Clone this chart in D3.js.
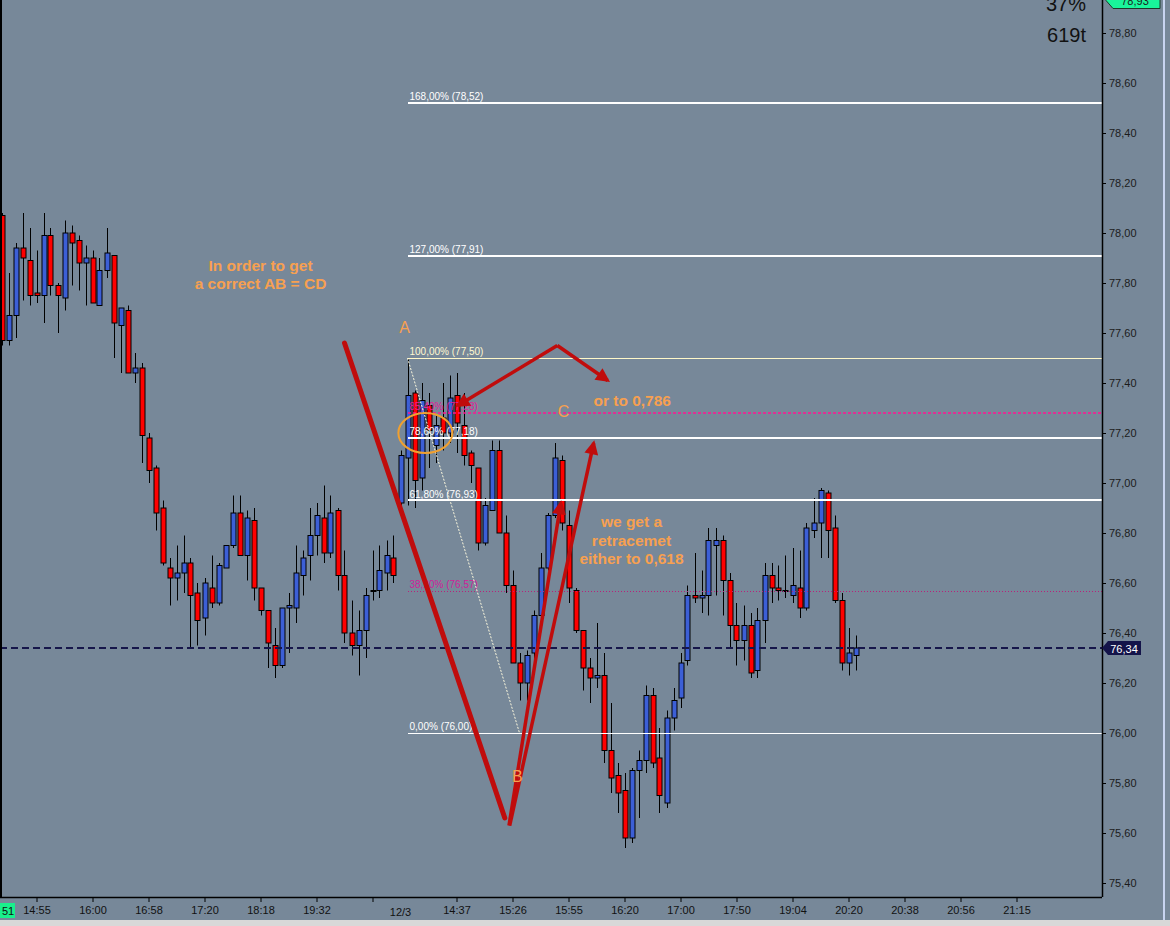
<!DOCTYPE html>
<html>
<head>
<meta charset="utf-8">
<script src="https://cdn.jsdelivr.net/npm/d3@7"></script>
<style>
  body { margin: 0; background: #778899; overflow: hidden; }
  svg { display: block; }
  text { font-family: "Liberation Sans", Arial, sans-serif; }
</style>
</head>
<body>
<div id="chart"></div>
<script>
// candles, one per bar (index = position on the time axis)
const opens = [78.07,77.57,77.67,77.94,77.89,77.76,77.75,77.99,77.79,77.74,78.00,77.97,77.88,77.90,77.71,77.85,77.91,77.63,77.69,77.44,
  77.46,77.18,77.06,76.90,76.66,76.62,76.64,76.68,76.56,76.46,76.58,76.52,76.66,76.75,76.88,76.71,76.85,76.58,76.49,76.35,
  76.27,76.50,76.50,76.63,76.71,76.79,76.86,76.72,76.89,76.63,76.40,76.35,76.41,76.57,76.57,76.64,76.70,76.92,77.10,77.36,
  77.02,77.31,77.15,77.26,77.20,77.35,77.23,77.12,77.06,76.76,76.89,77.13,76.80,76.59,76.28,76.20,76.32,76.47,76.66,76.87,
  77.09,76.83,76.57,76.41,76.26,76.22,76.23,75.93,75.83,75.77,75.58,75.85,75.89,76.15,75.90,75.72,76.06,76.14,76.29,76.55,
  76.54,76.55,76.75,76.77,76.61,76.43,76.37,76.43,76.25,76.45,76.63,76.58,76.57,76.55,76.58,76.50,76.81,76.84,76.96,76.82,
  76.53,76.28,76.31];
const highs = [78.08,77.84,77.96,78.08,78.02,77.93,78.08,78.02,77.80,78.05,78.03,77.99,77.95,77.93,77.90,78.02,77.91,77.70,77.71,77.52,
  77.48,77.20,77.07,76.93,76.70,76.75,76.79,76.70,76.60,76.62,76.71,76.68,76.75,76.95,76.95,76.89,76.90,76.58,76.49,76.42,
  76.50,76.56,76.75,76.73,76.90,76.92,76.99,76.95,76.90,76.73,76.53,76.49,76.58,76.73,76.75,76.77,76.79,77.13,77.50,77.37,
  77.40,77.36,77.27,77.40,77.43,77.44,77.36,77.13,77.06,76.94,77.17,77.17,76.87,76.65,76.32,76.33,76.49,76.72,76.88,77.16,
  77.11,76.89,76.58,76.41,76.30,76.44,76.32,76.12,75.88,75.84,75.86,75.93,76.19,76.18,76.02,76.09,76.18,76.32,76.59,76.72,
  76.65,76.82,76.82,76.79,76.64,76.52,76.51,76.48,76.50,76.68,76.68,76.67,76.71,76.74,76.73,76.84,76.94,76.98,76.97,76.87,
  76.56,76.42,76.39];
const lows = [77.55,77.55,77.58,77.73,77.71,77.72,77.64,77.75,77.60,77.69,77.79,77.77,77.71,77.72,77.71,77.82,77.50,77.44,77.44,77.40,
  77.08,77.00,76.81,76.67,76.51,76.53,76.56,76.34,76.35,76.39,76.50,76.51,76.66,76.74,76.71,76.61,76.53,76.47,76.26,76.22,
  76.26,76.32,76.44,76.55,76.61,76.71,76.68,76.70,76.57,76.36,76.31,76.23,76.30,76.53,76.54,76.57,76.60,76.86,76.91,76.90,
  76.97,77.06,77.08,77.13,77.16,77.12,77.07,77.00,76.73,76.75,76.89,76.80,76.56,76.28,76.13,76.13,76.28,76.46,76.65,76.86,
  76.81,76.52,76.40,76.17,76.12,76.18,75.88,75.76,75.68,75.54,75.56,75.66,75.84,75.86,75.68,75.70,76.01,76.10,76.27,76.52,
  76.48,76.47,76.55,76.47,76.34,76.27,76.29,76.22,76.22,76.36,76.52,76.53,76.54,76.52,76.46,76.49,76.78,76.70,76.70,76.52,
  76.25,76.23,76.25];
const closes = [77.57,77.67,77.94,77.90,77.75,77.75,77.99,77.79,77.75,78.00,77.96,77.88,77.90,77.72,77.85,77.92,77.64,77.70,77.44,77.46,
  77.19,77.05,76.88,76.68,76.62,76.64,76.68,76.55,76.45,76.60,76.52,76.67,76.75,76.88,76.71,76.86,76.58,76.49,76.36,76.27,
  76.50,76.51,76.64,76.70,76.79,76.87,76.72,76.88,76.63,76.40,76.35,76.41,76.55,76.57,76.65,76.71,76.63,77.11,77.35,77.01,
  77.33,77.21,77.23,77.20,77.34,77.24,77.11,77.07,76.76,76.91,77.13,76.80,76.59,76.28,76.20,76.31,76.47,76.66,76.87,77.10,
  76.84,76.58,76.41,76.26,76.22,76.23,75.93,75.82,75.76,75.58,75.85,75.89,76.15,75.88,75.75,76.06,76.13,76.28,76.55,76.54,
  76.55,76.77,76.77,76.61,76.43,76.37,76.43,76.24,76.45,76.63,76.58,76.57,76.57,76.59,76.50,76.82,76.84,76.97,76.81,76.53,
  76.28,76.32,76.34];

// time axis
const timeTickIdx = [5,13,21,29,37,45,53,65,73,81,89,97,105,113,121,129,137,145];
const timeTickLabels = ["14:55","16:00","16:58","17:20","18:18","19:32","","14:37","15:26","15:55","16:20","17:00","17:50","19:04","20:20","20:38","20:56","21:15"];
const dayIdx = 57;
const dayLabel = "12/3";

// price axis
const priceTicks = [75.4,75.6,75.8,76.0,76.2,76.4,76.6,76.8,77.0,77.2,77.4,77.6,77.8,78.0,78.2,78.4,78.6,78.8];
const lastPrice = 76.34;
const topPrice = 78.93;

// fibonacci levels drawn from A (77.50) to B (76.00)
const fibPct = [168.0, 127.0, 100.0, 85.4, 78.6, 61.8, 38.2, 0.0];
const fibPrice = [78.52, 77.91, 77.50, 77.28, 77.18, 76.93, 76.57, 76.00];
const fibStartIdx = 58;

const W = 1170, H = 926;
const plotRight = 1102, plotBottom = 897;

const x = d3.scaleLinear().domain([0, 157]).range([1.5, 1100.5]);
const y = d3.scaleLinear().domain([76, 78.8]).range([733, 33]);
const fmt = v => v.toFixed(2).replace('.', ',');

const svg = d3.select('#chart').append('svg')
    .attr('width', W)
    .attr('height', H);

svg.append('rect')
    .attr('width', W).attr('height', H)
    .attr('fill', '#778899');

const defs = svg.append('defs');
defs.append('clipPath').attr('id', 'plot-clip')
  .append('rect')
    .attr('x', 1.5).attr('y', 0)
    .attr('width', plotRight - 1.5).attr('height', plotBottom);
defs.append('marker')
    .attr('id', 'arrow')
    .attr('markerUnits', 'userSpaceOnUse')
    .attr('viewBox', '0 0 10 10')
    .attr('refX', 8).attr('refY', 5)
    .attr('markerWidth', 15).attr('markerHeight', 14)
    .attr('orient', 'auto')
  .append('path')
    .attr('d', 'M0,0 L10,5 L0,10 Z')
    .attr('fill', '#c00c0c');

const plot = svg.append('g').attr('clip-path', 'url(#plot-clip)');

const fibStyle = i => ({
  stroke: [ '#fff', '#fff', '#fff8c8', '#ff1493', '#fff', '#fff', '#b8207a', '#fff' ][i],
  width: [2, 2, 1, 1.4, 2, 2, 1, 1][i],
  dash: [null, null, null, '3,2', null, null, '1,2', null][i],
  label: [ '#fff', '#fff', '#fff8d0', '#e0209a', '#fff', '#fff', '#d0209a', '#fff' ][i]
});

const fibs = fibPct.map((p, i) => ({pct: p, price: fibPrice[i], i}));

// candles
const bars = opens.map((o, i) => ({i, o, h: highs[i], l: lows[i], c: closes[i]}));

const candle = plot.append('g').attr('class', 'candles')
  .selectAll('g')
  .data(bars)
  .join('g');

candle.append('line')
    .attr('x1', d => Math.round(x(d.i)) + 0.5)
    .attr('x2', d => Math.round(x(d.i)) + 0.5)
    .attr('y1', d => y(d.h))
    .attr('y2', d => y(d.l))
    .attr('stroke', '#000')
    .attr('stroke-width', 1);

candle.append('rect')
    .attr('x', d => Math.round(x(d.i)) - 2)
    .attr('y', d => y(Math.max(d.o, d.c)))
    .attr('width', 5)
    .attr('height', d => Math.max(1, y(Math.min(d.o, d.c)) - y(Math.max(d.o, d.c))))
    .attr('fill', d => d.c >= d.o ? '#3c5fd6' : '#ff0000')
    .attr('stroke', '#000')
    .attr('stroke-width', 1);

// last price dashed line
plot.append('line')
    .attr('x1', 0).attr('x2', plotRight)
    .attr('y1', y(lastPrice)).attr('y2', y(lastPrice))
    .attr('stroke', '#16164a')
    .attr('stroke-width', 2)
    .attr('stroke-dasharray', '7,4');

// fibonacci levels
const fibG = plot.append('g').attr('class', 'fib');
fibG.selectAll('line')
  .data(fibs)
  .join('line')
    .attr('x1', x(fibStartIdx) + 0.5)
    .attr('x2', plotRight)
    .attr('y1', d => Math.round(y(d.price)) + (fibStyle(d.i).width === 1 ? 0.5 : 0))
    .attr('y2', d => Math.round(y(d.price)) + (fibStyle(d.i).width === 1 ? 0.5 : 0))
    .attr('stroke', d => fibStyle(d.i).stroke)
    .attr('stroke-width', d => fibStyle(d.i).width)
    .attr('stroke-dasharray', d => fibStyle(d.i).dash);

fibG.selectAll('text')
  .data(fibs)
  .join('text')
    .attr('x', x(fibStartIdx) + 2)
    .attr('y', d => y(d.price) - 3)
    .attr('font-size', 10)
    .attr('fill', d => fibStyle(d.i).label)
    .text(d => `${fmt(d.pct)}% (${fmt(d.price)})`);

// A -> B thin retrace line
plot.append('line')
    .attr('x1', x(fibStartIdx)).attr('y1', y(77.50))
    .attr('x2', x(74)).attr('y2', y(76.00))
    .attr('stroke', '#fffbe0')
    .attr('stroke-width', 1)
    .attr('stroke-dasharray', '2,1.5');

// hand drawn annotations
const red = '#c00c0c';
const ann = plot.append('g').attr('class', 'annotations');
ann.append('line')
    .attr('x1', x(49)).attr('y1', y(77.56))
    .attr('x2', x(71.9)).attr('y2', y(75.66))
    .attr('stroke', red).attr('stroke-width', 5).attr('stroke-linecap', 'round');
[[72.5, 75.63, 79.9, 76.92], [72.6, 75.63, 84.6, 77.16],
 [79.4, 77.55, 65.2, 77.31], [79.4, 77.55, 86.6, 77.41]].forEach(s => {
  ann.append('line')
      .attr('x1', x(s[0])).attr('y1', y(s[1]))
      .attr('x2', x(s[2])).attr('y2', y(s[3]))
      .attr('stroke', red).attr('stroke-width', 3.5)
      .attr('marker-end', 'url(#arrow)');
});

ann.append('ellipse')
    .attr('cx', x(60.55)).attr('cy', y(77.20))
    .attr('rx', 27).attr('ry', 20)
    .attr('fill', 'none')
    .attr('stroke', '#f0a030')
    .attr('stroke-width', 2);

const orange = '#f7a050';
const notes = [
  {t: 'In order to get', i: 37, p: 77.848, bold: true},
  {t: 'a correct AB = CD', i: 37, p: 77.776, bold: true},
  {t: 'A', i: 57.6, p: 77.60, bold: false},
  {t: 'C', i: 80.3, p: 77.265, bold: false},
  {t: 'or to 0,786', i: 90.1, p: 77.308, bold: true},
  {t: 'we get a', i: 90, p: 76.824, bold: true},
  {t: 'retracemet', i: 90, p: 76.748, bold: true},
  {t: 'either to 0,618', i: 90, p: 76.676, bold: true},
  {t: 'B', i: 73.7, p: 75.805, bold: false}
];
ann.selectAll('text')
  .data(notes)
  .join('text')
    .attr('x', d => x(d.i))
    .attr('y', d => y(d.p))
    .attr('text-anchor', 'middle')
    .attr('font-size', d => d.bold ? 15.5 : 16)
    .attr('font-weight', d => d.bold ? 'bold' : 'normal')
    .attr('fill', orange)
    .text(d => d.t);

// frame
svg.append('line')
    .attr('x1', 1).attr('x2', 1).attr('y1', 0).attr('y2', plotBottom)
    .attr('stroke', '#000').attr('stroke-width', 2);

// price axis
svg.append('g')
    .attr('transform', `translate(${plotRight},0)`)
    .call(d3.axisRight(y).tickValues(priceTicks).tickSize(4).tickPadding(3).tickFormat(fmt))
    .call(g => g.select('.domain').attr('d', `M0.5,0V${plotBottom}`).attr('stroke', '#000').attr('stroke-width', 1.5))
    .call(g => g.selectAll('.tick line').attr('stroke', '#000'))
    .call(g => g.selectAll('.tick text')
        .attr('font-family', '"Liberation Sans", Arial, sans-serif')
        .attr('font-size', 11)
        .attr('fill', '#1c1c1c'));

// time axis
svg.append('g')
    .attr('transform', `translate(0,${plotBottom})`)
    .call(d3.axisBottom(x).tickValues(timeTickIdx).tickSize(5).tickPadding(4)
        .tickFormat((d, i) => timeTickLabels[i]))
    .call(g => g.select('.domain').attr('d', `M0,0.5H${plotRight}`).attr('stroke', '#000').attr('stroke-width', 1.5))
    .call(g => g.selectAll('.tick line').attr('stroke', '#000'))
    .call(g => g.selectAll('.tick text')
        .attr('font-family', '"Liberation Sans Narrow", "Liberation Sans", Arial, sans-serif')
        .attr('font-size', 11)
        .attr('fill', '#111'));

svg.append('text')
    .attr('x', x(dayIdx)).attr('y', plotBottom + 19)
    .attr('text-anchor', 'middle')
    .attr('font-family', '"Liberation Sans Narrow", "Liberation Sans", Arial, sans-serif')
    .attr('font-size', 11)
    .attr('fill', '#111')
    .text(dayLabel);

// bar counter box bottom left
svg.append('rect').attr('x', 0).attr('y', 903).attr('width', 15).attr('height', 15).attr('fill', '#19f08c');
svg.append('text').attr('x', 2).attr('y', 915).attr('font-size', 11).attr('fill', '#111').text('51');

// last price flag
const lp = y(lastPrice);
svg.append('path')
    .attr('d', `M${plotRight},${lp} L${plotRight + 6},${lp - 7} H${plotRight + 39} V${lp + 7} H${plotRight + 6} Z`)
    .attr('fill', '#14144a');
svg.append('text')
    .attr('x', plotRight + 22).attr('y', lp + 4.5)
    .attr('text-anchor', 'middle')
    .attr('font-size', 11)
    .attr('fill', '#fff')
    .text(fmt(lastPrice));

// top price flag (partly off screen, as in the original capture)
const tp = y(topPrice);
svg.append('path')
    .attr('d', `M${plotRight + 4},${tp} L${plotRight + 11},${tp - 8} H${plotRight + 58} V${tp + 8} H${plotRight + 11} Z`)
    .attr('fill', '#19f59a')
    .attr('stroke', '#1a3a2a');
svg.append('text')
    .attr('x', plotRight + 33).attr('y', tp + 4)
    .attr('text-anchor', 'middle')
    .attr('font-size', 11)
    .attr('fill', '#1c1c1c')
    .text(fmt(topPrice));

// info corner
svg.append('text').attr('x', 1086).attr('y', 11).attr('text-anchor', 'end')
    .attr('font-size', 20).attr('fill', '#111').text('37%');
svg.append('text').attr('x', 1086).attr('y', 42).attr('text-anchor', 'end')
    .attr('font-size', 20).attr('fill', '#111').text('619t');

// window edges
svg.append('rect').attr('x', 0).attr('y', 920).attr('width', W).attr('height', 6).attr('fill', '#d8d8d8');
svg.append('rect').attr('x', 1163).attr('y', 0).attr('width', 2).attr('height', 920).attr('fill', '#c8d4f0');
</script>
</body>
</html>
